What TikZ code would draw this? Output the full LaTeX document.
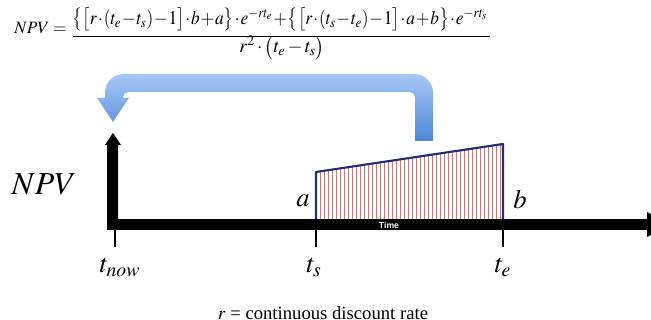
\documentclass[tikz,border=0pt]{standalone}
\usepackage{mathptmx}
\usepackage{fontspec}
\setmainfont{Liberation Serif}
\newfontfamily\timesans{Liberation Sans}
\usetikzlibrary{calc}
\definecolor{arrowlight}{RGB}{166,199,246}
\definecolor{arrowdark}{RGB}{78,135,212}
\definecolor{trapnavy}{RGB}{28,48,120}
\definecolor{hatchred}{RGB}{222,110,110}
\tikzset{
  formtext/.style={inner sep=0pt, anchor=base, font=\fontsize{14.5}{17}\selectfont},
  biglabel/.style={inner sep=0pt, font=\fontsize{22}{24}\selectfont},
  ticklabel/.style={inner sep=0pt, font=\fontsize{20}{24}\selectfont, anchor=base},
  tickline/.style={line width=2pt, black},
  hatch/.style={hatchred, line width=0.55pt},
  trapline/.style={trapnavy, line width=1.6pt, line join=round},
}
\begin{document}
\begin{tikzpicture}[x=0.75pt,y=-0.75pt]
\clip (0,0) rectangle (651,320);
\fill[white] (0,0) rectangle (651,320);

% formula
\node[formtext, anchor=base west, font=\fontsize{13}{15}\selectfont] (lhs) at (14,34) {$NPV=$};
\node[formtext] (num) at (280,24.5)
  {\resizebox{311pt}{\height}{\medmuskip=1mu\thickmuskip=3mu$\bigl\{\bigl[r\cdot(t_e-t_s)-1\bigr]\cdot b+a\bigr\}\cdot e^{-rt_e}+\bigl\{\bigl[r\cdot(t_s-t_e)-1\bigr]\cdot a+b\bigr\}\cdot e^{-rt_s}$}};
\node[formtext] (den) at (282,53)
  {\medmuskip=2mu$r^2\cdot\bigl(t_e-t_s\bigr)$};
\coordinate (fl) at (73,36.5);
\coordinate (fr) at (490,36.5);
\draw[line width=1.1pt] (fl) -- (fr);

% blue curved arrow
\shade[top color=arrowlight, bottom color=arrowdark]
  (415,141) [rounded corners=4pt] -- (415,92) -- (123,92) [sharp corners] -- (123,98)
  -- (129,98) -- (113,122) -- (97,98) -- (105,98) [rounded corners=14pt] -- (105,74) -- (433,74)
  [sharp corners] -- (433,141) -- cycle;

% hatched trapezoid
\coordinate (A) at (316,172);
\coordinate (B) at (503,144);
\coordinate (base) at (316,219);
\foreach \x in {320,324,...,500}{
  \pgfmathsetmacro\yt{172-(\x-316)*28/187}
  \draw[hatch] (\x,\yt) -- (\x,219);
}
\draw[trapline] (base) -- (A) -- (B) -- (B |- base);

% axes
\coordinate (origin) at (108,230);
\fill[black] (108,219) rectangle (651,230);
\fill[black] (647,212) -- (670,224.5) -- (647,237) -- cycle;
\fill[black] (107,230) -- (107,145) -- (105,145) -- (113,133) -- (121,145) -- (118,145) -- (118,230) -- cycle;

% ticks
\coordinate (tnow) at (115,230);
\coordinate (ts) at (316,230);
\coordinate (te) at (503,230);
\draw[tickline] (tnow) -- ++(0,17);
\draw[tickline] (ts) -- ++(0,17);
\draw[tickline] (te) -- ++(0,17);

\node[inner sep=0pt, text=white, font=\timesans\bfseries\fontsize{6.5}{7}\selectfont] (time) at (389,225) {Time};

% labels
\node[biglabel, font=\fontsize{24}{28}\selectfont] (npv) at (44,184) {$NPV$};
\node[biglabel, font=\fontsize{20}{22}\selectfont] (la) at (303,201) {$a$};
\node[biglabel, font=\fontsize{20}{22}\selectfont] (lb) at (520,199) {$b$};
\node[ticklabel] (lnow) at (120,273) {$t_{now}$};
\node[ticklabel] (ls) at (314,273) {$t_s$};
\node[ticklabel] (le) at (503,273) {$t_e$};
\node[inner sep=0pt, font=\fontsize{14}{16}\selectfont] (rate) at (323,313) {$r$ = continuous discount rate};
\end{tikzpicture}
\end{document}
